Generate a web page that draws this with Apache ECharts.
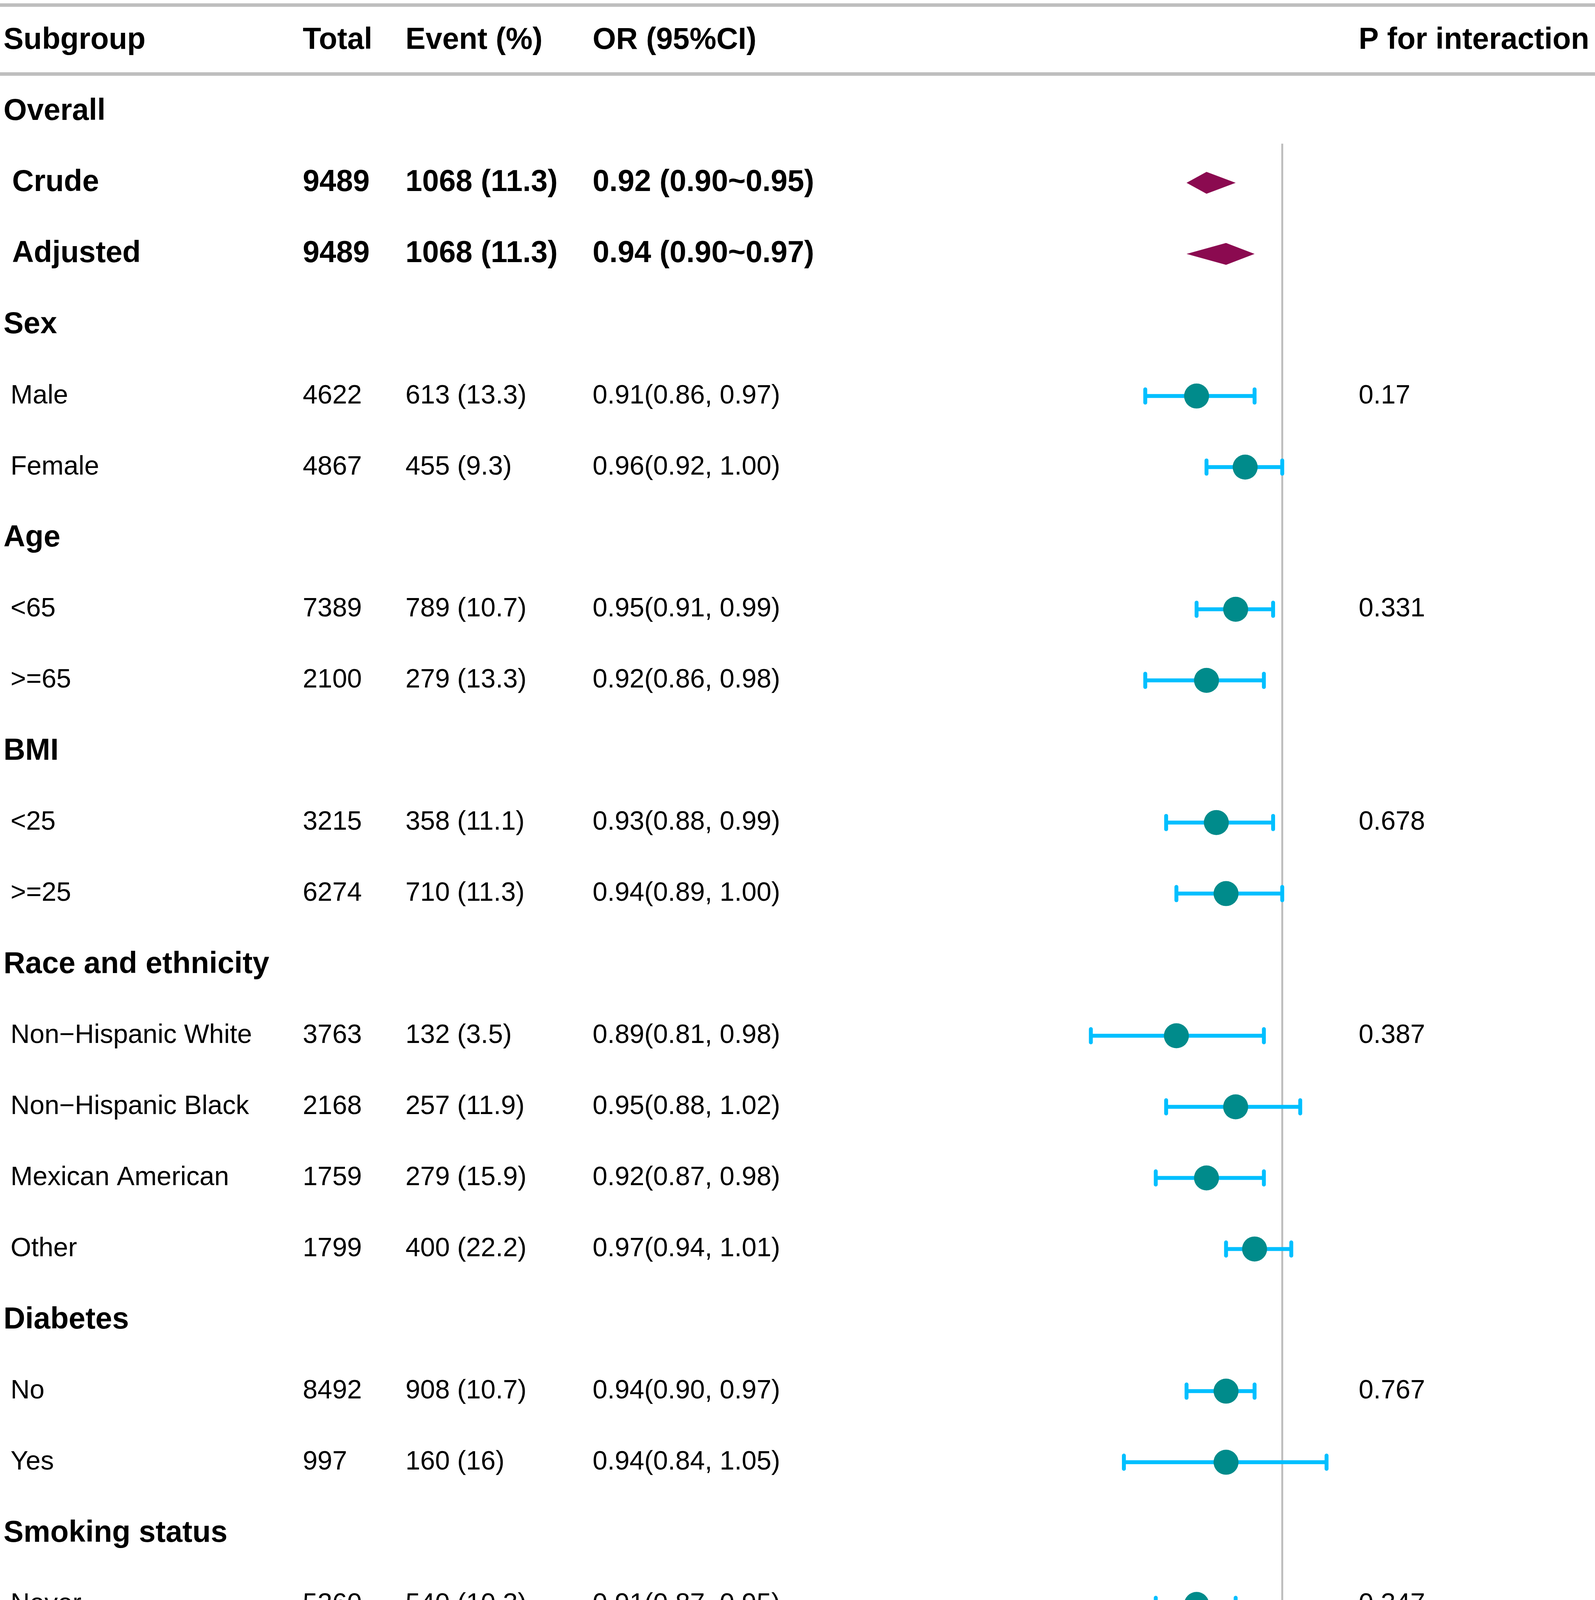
<!DOCTYPE html>
<html lang="en">
<head>
<meta charset="utf-8">
<title>Forest plot</title>
<script src="https://cdn.jsdelivr.net/npm/echarts@6/dist/echarts.min.js"></script>
<style>
  html, body { margin: 0; padding: 0; background: #fff; }
  #chart { width: 4083px; height: 5929px; }
</style>
</head>
<body>
<div id="chart"></div>
<script>
// ---- table data (one entry per row under the header) ----
var headers = ['Subgroup', 'Total', 'Event (%)', 'OR (95%CI)', 'P for interaction'];
var subgroups = ['Overall', 'Crude', 'Adjusted', 'Sex', 'Male', 'Female', 'Age', '<65', '>=65',
  'BMI', '<25', '>=25', 'Race and ethnicity', 'Non\u2212Hispanic White', 'Non\u2212Hispanic Black',
  'Mexican American', 'Other', 'Diabetes', 'No', 'Yes', 'Smoking status', 'Never', 'Former', 'Current',
  'Alcohol use', 'No', 'Yes', 'HIV', 'Negative', 'Positive'];
var rowKind = ['group', 'overall', 'overall', 'group', 'sub', 'sub', 'group', 'sub', 'sub',
  'group', 'sub', 'sub', 'group', 'sub', 'sub', 'sub', 'sub', 'group', 'sub', 'sub',
  'group', 'sub', 'sub', 'sub', 'group', 'sub', 'sub', 'group', 'sub', 'sub'];
var totals = ['', '9489', '9489', '', '4622', '4867', '', '7389', '2100', '', '3215', '6274', '',
  '3763', '2168', '1759', '1799', '', '8492', '997', '', '5260', '2231', '1998', '', '2859', '6630',
  '', '9034', '455'];
var events = ['', '1068 (11.3)', '1068 (11.3)', '', '613 (13.3)', '455 (9.3)', '', '789 (10.7)',
  '279 (13.3)', '', '358 (11.1)', '710 (11.3)', '', '132 (3.5)', '257 (11.9)', '279 (15.9)',
  '400 (22.2)', '', '908 (10.7)', '160 (16)', '', '540 (10.3)', '292 (13.1)', '236 (11.8)', '',
  '366 (12.8)', '702 (10.6)', '', '1041(11.5)', '27 (5.9)'];
var orText = ['', '0.92 (0.90~0.95)', '0.94 (0.90~0.97)', '', '0.91(0.86, 0.97)', '0.96(0.92, 1.00)', '',
  '0.95(0.91, 0.99)', '0.92(0.86, 0.98)', '', '0.93(0.88, 0.99)', '0.94(0.89, 1.00)', '',
  '0.89(0.81, 0.98)', '0.95(0.88, 1.02)', '0.92(0.87, 0.98)', '0.97(0.94, 1.01)', '',
  '0.94(0.90, 0.97)', '0.94(0.84, 1.05)', '', '0.91(0.87, 0.95)', '0.94(0.86, 1.04)',
  '0.97(0.89, 1.04)', '', '0.95(0.89, 1.02)', '0.93(0.89, 0.97)', '', '0.94(0.90, 0.97)',
  '0.64(0.45, 0.91)'];
var pInteraction = ['', '', '', '', '0.17', '', '', '0.331', '', '', '0.678', '', '', '0.387', '', '',
  '', '', '0.767', '', '', '0.347', '', '', '', '0.602', '', '', '0.034', ''];

// ---- effect sizes (OR) ----
var estimate = [null, 0.92, 0.94, null, 0.91, 0.96, null, 0.95, 0.92, null, 0.93, 0.94, null,
  0.89, 0.95, 0.92, 0.97, null, 0.94, 0.94, null, 0.91, 0.94, 0.97, null, 0.95, 0.93, null, 0.94, 0.64];
var lower = [null, 0.90, 0.90, null, 0.86, 0.92, null, 0.91, 0.86, null, 0.88, 0.89, null,
  0.81, 0.88, 0.87, 0.94, null, 0.90, 0.84, null, 0.87, 0.86, 0.89, null, 0.89, 0.89, null, 0.90, 0.45];
var upper = [null, 0.95, 0.97, null, 0.97, 1.00, null, 0.99, 0.98, null, 0.99, 1.00, null,
  0.98, 1.02, 0.98, 1.01, null, 0.97, 1.05, null, 0.95, 1.04, 1.04, null, 1.02, 0.97, null, 0.97, 0.91];

// ---- axis ----
var tickValues = [0.95, 1, 1.05];
var tickLabels = [0.95, 1.05];
var axisMin = 0.2437, axisMax = 1.4111;   // log scale, whole width
var clipMin = 0.62;                        // CI drawn as arrow below this

var FONT = '"Liberation Sans", Arial, Helvetica, sans-serif';
var colX = [9, 775, 1038, 1517, 3478];
var ln = Math.log;

var nRows = subgroups.length + 1; // + header

var textData = [];
for (var i = 0; i < nRows; i++) textData.push([0, i]);

var ciData = [], diamondData = [];
for (var r = 0; r < subgroups.length; r++) {
  if (estimate[r] == null) continue;
  var item = [ln(estimate[r]), r + 1, ln(lower[r]), ln(upper[r])];
  if (rowKind[r] === 'overall') diamondData.push(item); else ciData.push(item);
}

var chart = echarts.init(document.getElementById('chart'));

function renderFrame(params, api) {
  var cs = params.coordSys;
  var x0 = cs.x, x1 = cs.x + cs.width;
  var gray = '#bebebe';
  function hline(row, w, color, a, b) {
    var y = api.coord([0, row])[1];
    return { type: 'line', shape: { x1: a, y1: y, x2: b, y2: y },
      style: { stroke: color, lineWidth: w } };
  }
  var refTop = api.coord([0, 1.45]);
  var refBot = api.coord([0, nRows - 0.5]);
  var a95 = api.coord([ln(0.95), nRows - 0.5])[0];
  var a105 = api.coord([ln(1.05), nRows - 0.5])[0];
  return {
    type: 'group',
    children: [
      { type: 'line', shape: { x1: refTop[0], y1: refTop[1], x2: refBot[0], y2: refBot[1] },
        style: { stroke: gray, lineWidth: 5 } },
      hline(-0.5, 9, gray, x0, x1),
      hline(0.47, 9, gray, x0, x1),
      hline(nRows - 0.5, 9, gray, x0, x1),
      hline(nRows - 0.5, 5, '#000', a95 - 2, a105 + 2)
    ]
  };
}

function renderCI(params, api) {
  var row = api.value(1);
  var lo = api.value(2), hi = api.value(3);
  var clipLn = ln(clipMin);
  var pE = api.coord([api.value(0), row]);
  var pL = api.coord([Math.max(lo, clipLn), row]);
  var pH = api.coord([hi, row]);
  var y = pE[1];
  var blue = '#00bfff';
  var lineStyle = { stroke: blue, lineWidth: 10, lineCap: 'round', lineJoin: 'round' };
  var kids = [
    { type: 'line', shape: { x1: pL[0], y1: y, x2: pH[0], y2: y }, style: { stroke: blue, lineWidth: 10 } },
    { type: 'line', shape: { x1: pH[0], y1: y - 17, x2: pH[0], y2: y + 17 }, style: lineStyle }
  ];
  if (lo >= clipLn) {
    kids.push({ type: 'line', shape: { x1: pL[0], y1: y - 17, x2: pL[0], y2: y + 17 }, style: lineStyle });
  } else {
    kids.push({ type: 'polyline', shape: { points: [[pL[0] + 36, y - 19], [pL[0], y], [pL[0] + 36, y + 19]] },
      style: { stroke: blue, lineWidth: 10, lineCap: 'round', lineJoin: 'round', fill: null } });
  }
  kids.push({ type: 'circle', shape: { cx: pE[0], cy: y, r: 32 }, style: { fill: '#008b8b' } });
  return { type: 'group', children: kids };
}

function renderDiamond(params, api) {
  var row = api.value(1);
  var pE = api.coord([api.value(0), row]);
  var pL = api.coord([api.value(2), row]);
  var pH = api.coord([api.value(3), row]);
  var y = pE[1];
  return {
    type: 'polygon',
    shape: { points: [[pL[0], y], [pE[0], y - 28], [pH[0], y], [pE[0], y + 28]] },
    style: { fill: '#8b0a50' }
  };
}

function renderText(params, api) {
  var i = params.dataIndex;
  var y = api.coord([0, api.value(1)])[1];
  var cells, kind;
  if (i === 0) {
    cells = headers; kind = 'header';
  } else {
    var r = i - 1;
    cells = [subgroups[r], totals[r], events[r], orText[r], pInteraction[r]];
    kind = rowKind[r];
  }
  var bold = kind !== 'sub';
  var kids = [];
  for (var c = 0; c < cells.length; c++) {
    if (!cells[c]) continue;
    var x = colX[c];
    if (c === 0 && kind === 'sub') x = 27;
    if (c === 0 && kind === 'overall') x = 31;
    kids.push({
      type: 'text',
      style: {
        text: cells[c], x: x, y: y,
        fontSize: bold ? 77 : 68, fontWeight: bold ? 'bold' : 'normal',
        fontFamily: FONT, fill: '#000', align: 'left', verticalAlign: 'middle'
      }
    });
  }
  return { type: 'group', children: kids };
}

var option = {
  animation: false,
  backgroundColor: '#fff',
  grid: { left: 0, right: 0, top: 13, bottom: 275 },
  xAxis: {
    type: 'value',
    position: 'bottom',
    min: ln(axisMin),
    max: ln(axisMax),
    axisLine: { show: false, onZero: false },
    splitLine: { show: false },
    axisTick: {
      show: true,
      customValues: tickValues.map(ln),
      length: 48,
      lineStyle: { color: '#000', width: 4 }
    },
    axisLabel: {
      customValues: tickLabels.map(ln),
      formatter: function (v) { return Math.exp(v).toFixed(2); },
      fontSize: 76,
      fontFamily: FONT,
      color: '#000',
      margin: 113
    }
  },
  yAxis: {
    type: 'value',
    inverse: true,
    min: -0.5,
    max: nRows - 0.5,
    show: false
  },
  graphic: [{
    type: 'text',
    x: 2786, y: 5900,
    style: {
      text: 'Effect (95%CI)', fontSize: 76, fontFamily: FONT, fill: '#000',
      align: 'center', verticalAlign: 'middle'
    }
  }],
  series: [
    { type: 'custom', name: 'frame', clip: false, data: [[0, 0]], renderItem: renderFrame, silent: true },
    { type: 'custom', name: 'ci', clip: false, data: ciData, renderItem: renderCI },
    { type: 'custom', name: 'overall', clip: false, data: diamondData, renderItem: renderDiamond },
    { type: 'custom', name: 'table', clip: false, data: textData, renderItem: renderText, silent: true }
  ]
};

chart.setOption(option);
</script>
</body>
</html>
